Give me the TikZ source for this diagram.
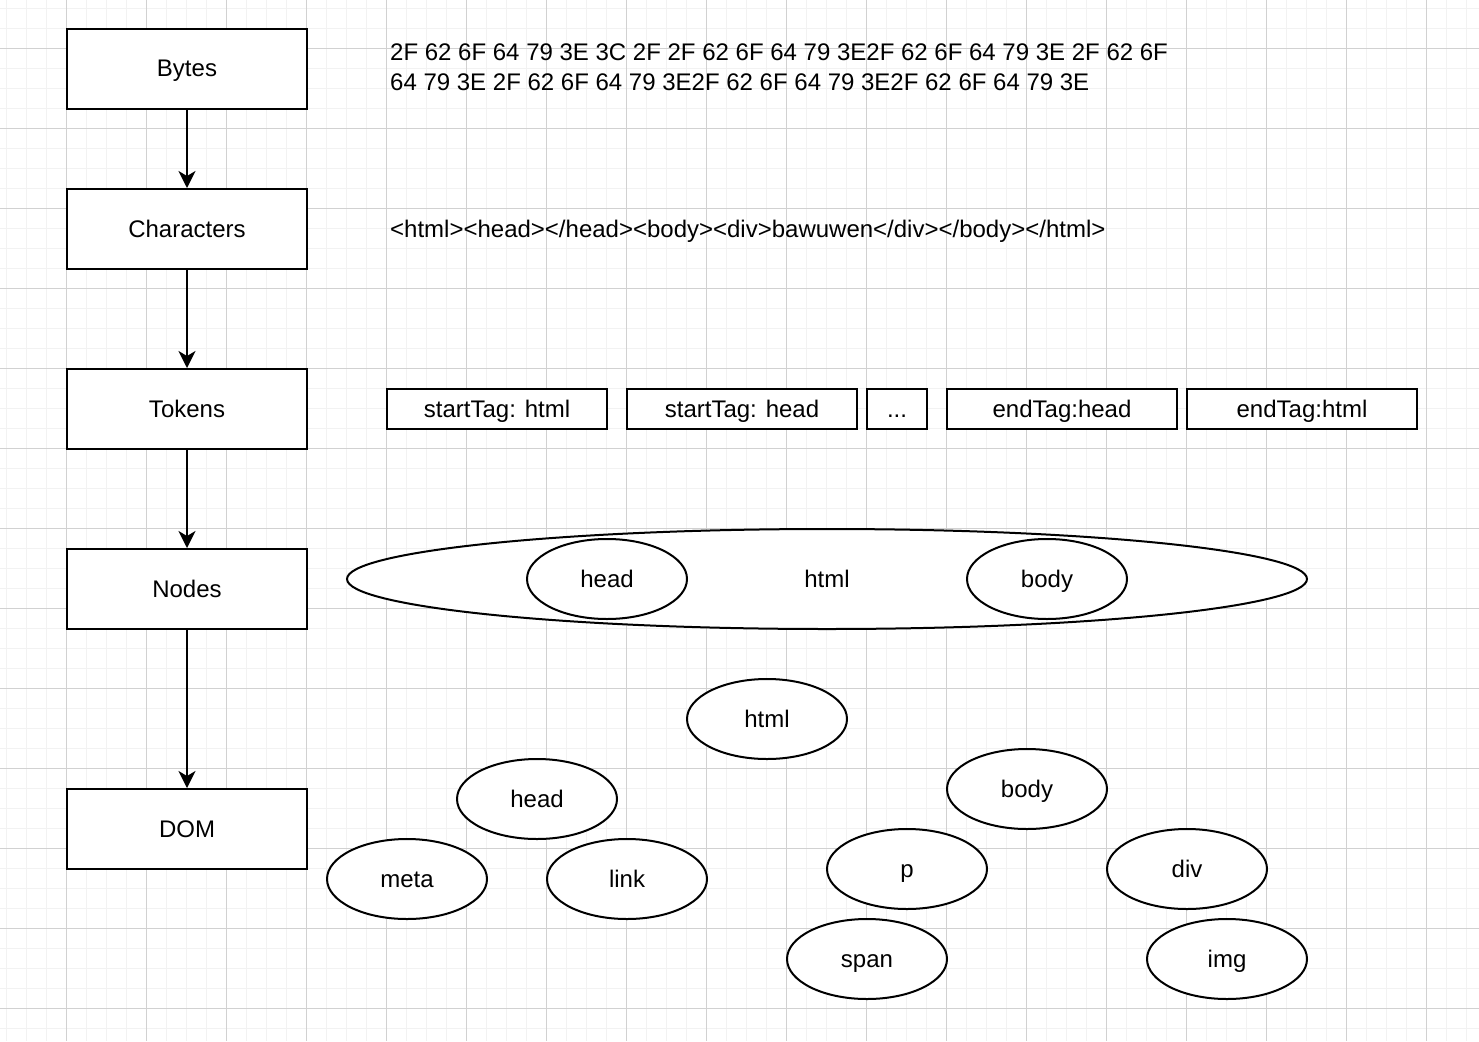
\documentclass[tikz,border=0pt]{standalone}
\usepackage{fontspec}
\setmainfont{Liberation Sans}
\usetikzlibrary{arrows.meta,shapes.geometric}

\tikzset{
  minorgrid/.style={draw=black!5, line width=1pt},
  majorgrid/.style={draw=black!18, line width=1pt},
  label text/.style={text height=19pt, text depth=3pt},
  stagebox/.style={draw, fill=white, line width=2pt, minimum width=240pt,
    minimum height=80pt, inner sep=0pt, label text},
  tokenbox/.style={draw, fill=white, line width=2pt, minimum height=40pt,
    inner sep=0pt, label text},
  domnode/.style={ellipse, draw, fill=white, line width=2pt,
    minimum width=160pt, minimum height=80pt, inner sep=0pt, label text},
  flow/.style={draw, line width=2pt,
    -{Stealth[length=17pt, width=17pt, inset=5pt]}},
  plain/.style={inner sep=0pt},
}

\begin{document}
\begin{tikzpicture}[x=1pt, y=-1pt, font=\fontsize{24}{30}\selectfont]
  \useasboundingbox (0,0) rectangle (1479,1041);
  \fill[white] (0,0) rectangle (1479,1041);

  % background grid
  \foreach \gx in {6.5,26.5,...,1479} \draw[minorgrid] (\gx,0) -- (\gx,1041);
  \foreach \gy in {8.5,28.5,...,1041} \draw[minorgrid] (0,\gy) -- (1479,\gy);
  \foreach \gx in {66.5,146.5,...,1479} \draw[majorgrid] (\gx,0) -- (\gx,1041);
  \foreach \gy in {48.5,128.5,...,1041} \draw[majorgrid] (0,\gy) -- (1479,\gy);

  % pipeline stages
  \node[stagebox] (bytes) at (187,69)  {Bytes};
  \node[stagebox] (chars) at (187,229) {Characters};
  \node[stagebox] (tokens) at (187,409) {Tokens};
  \node[stagebox] (nodes) at (187,589) {Nodes};
  \node[stagebox] (dom) at (187,829)   {DOM};

  \draw[flow] (bytes) -- (chars);
  \draw[flow] (chars) -- (tokens);
  \draw[flow] (tokens) -- (nodes);
  \draw[flow] (nodes) -- (dom);

  % bytes
  \node[plain, anchor=west, align=left] (hex) at (390,67)
    {2F 62 6F 64 79 3E 3C 2F 2F 62 6F 64 79 3E2F 62 6F 64 79 3E 2F 62 6F\\
     64 79 3E 2F 62 6F 64 79 3E2F 62 6F 64 79 3E2F 62 6F 64 79 3E};

  % characters
  \node[plain, anchor=west, label text] (markup) at (390,229)
    {<html><head></head><body><div>bawuwen</div></body></html>};

  % tokens
  \node[tokenbox, minimum width=220pt] (t1) at (497,409) {startTag: html};
  \node[tokenbox, minimum width=230pt] (t2) at (742,409) {startTag: head};
  \node[tokenbox, minimum width=60pt]  (t3) at (897,409) {...};
  \node[tokenbox, minimum width=230pt] (t4) at (1062,409) {endTag:head};
  \node[tokenbox, minimum width=230pt] (t5) at (1302,409) {endTag:html};

  % nodes
  \node[ellipse, draw, fill=white, line width=2pt, minimum width=960pt,
    minimum height=100pt, inner sep=0pt, label text] (nhtml) at (827,579) {html};
  \node[domnode] (nhead) at (607,579) {head};
  \node[domnode] (nbody) at (1047,579) {body};

  % DOM
  \node[domnode] (dhtml) at (767,719) {html};
  \node[domnode] (dhead) at (537,799) {head};
  \node[domnode] (dbody) at (1027,789) {body};
  \node[domnode] (dmeta) at (407,879) {meta};
  \node[domnode] (dlink) at (627,879) {link};
  \node[domnode] (dp) at (907,869) {p};
  \node[domnode] (ddiv) at (1187,869) {div};
  \node[domnode] (dspan) at (867,959) {span};
  \node[domnode] (dimg) at (1227,959) {img};
\end{tikzpicture}
\end{document}
